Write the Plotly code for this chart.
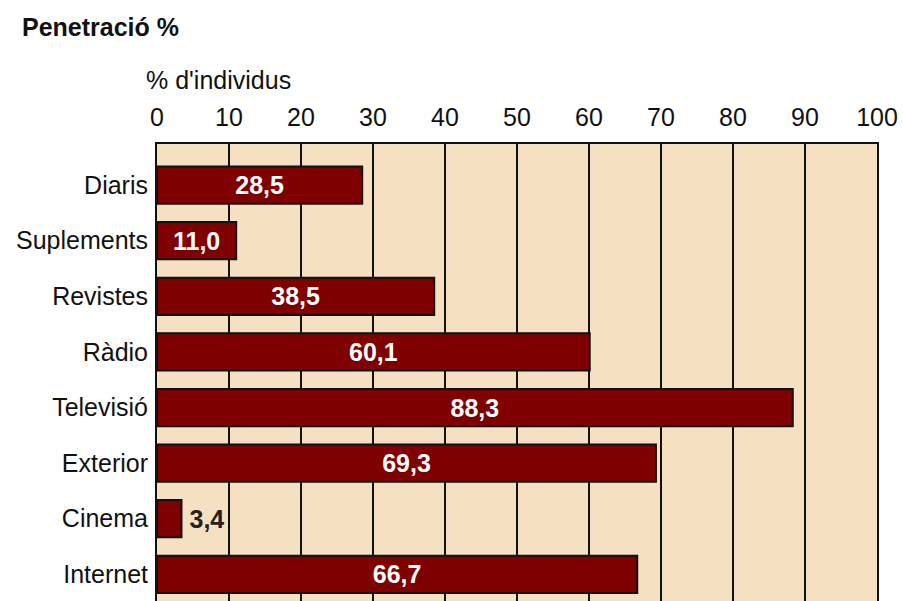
import plotly.graph_objects as go

# Media penetration, % of individuals
categories = ["Diaris", "Suplements", "Revistes", "Ràdio", "Televisió", "Exterior", "Cinema", "Internet"]
values = [28.5, 11.0, 38.5, 60.1, 88.3, 69.3, 3.4, 66.7]
x_ticks = [0, 10, 20, 30, 40, 50, 60, 70, 80, 90, 100]

# Short bars carry their label outside, with a little extra room
positions = ["outside" if v < 8 else "inside" for v in values]
labels = [("\u2009" if p == "outside" else "") + f"{v:.1f}".replace(".", ",")
          for v, p in zip(values, positions)]

FONT = "Liberation Sans, Arial, sans-serif"

fig = go.Figure(go.Bar(
    x=values,
    y=list(range(len(categories))),
    orientation="h",
    marker=dict(color="#7f0000", line=dict(color="#111111", width=2)),
    text=labels,
    textposition=positions,
    insidetextanchor="middle",
    insidetextfont=dict(color="white", size=25, family=FONT, weight="bold"),
    outsidetextfont=dict(color="#222222", size=25, family=FONT, weight="bold"),
    textangle=0,
    cliponaxis=False,
    hoverinfo="skip",
))

fig.update_layout(
    width=903, height=601,
    margin=dict(l=157, r=26, t=144, b=0),
    paper_bgcolor="white",
    plot_bgcolor="#f5e1c1",
    bargap=0.33,
    showlegend=False,
    font=dict(family=FONT, size=25, color="#111111"),
    xaxis=dict(
        side="top",
        range=[0, 100],
        tickvals=x_ticks,
        ticktext=[str(t) for t in x_ticks],
        showgrid=True, gridcolor="#111111", gridwidth=2,
        zeroline=False,
        showline=True, linecolor="#111111", linewidth=2, mirror=False,
        ticks="", ticklabelstandoff=6,
        tickfont=dict(size=25, family=FONT, color="#111111"),
        fixedrange=True,
    ),
    yaxis=dict(
        range=[7.48, -0.74],
        tickvals=list(range(len(categories))),
        ticktext=categories,
        showgrid=False, zeroline=False,
        showline=True, linecolor="#111111", linewidth=2, mirror=True,
        ticks="", ticklabelstandoff=2,
        tickfont=dict(size=25, family=FONT, color="#111111"),
        fixedrange=True,
    ),
    annotations=[
        dict(text="<b>Penetració %</b>", xref="paper", yref="paper",
             x=(20 - 157) / 720, y=1 + (144 - 27) / 457,
             xanchor="left", yanchor="middle", showarrow=False,
             font=dict(size=25, family=FONT, color="#111111")),
        dict(text="% d'individus", xref="paper", yref="paper",
             x=(144 - 157) / 720, y=1 + (144 - 80) / 457,
             xanchor="left", yanchor="middle", showarrow=False,
             font=dict(size=25, family=FONT, color="#111111")),
    ],
)

fig.write_html("out.html")
